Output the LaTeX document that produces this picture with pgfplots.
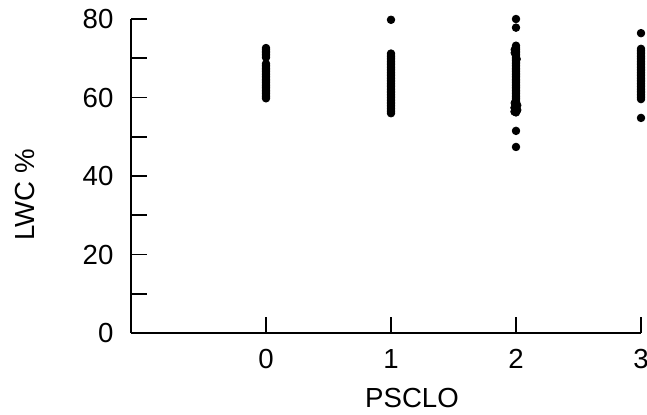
\documentclass[border=0pt]{standalone}
\usepackage{fontspec}
\setmainfont{Liberation Sans}
\usepackage{pgfplots}
\pgfplotsset{compat=1.18}
\begin{document}
\fontsize{13.8}{16}\selectfont
\begin{tikzpicture}
\tikzset{dot/.style={only marks, mark=*, mark size=1.9pt, draw=black, fill=black, mark options={draw=black, fill=black}}}
\begin{axis}[
  scale only axis,
  width=255pt, height=157pt,
  xmin=-1.08, xmax=3, ymin=0, ymax=80,
  clip=false,
  axis x line*=bottom, axis y line*=left,
  axis line style={line width=0.9pt, black},
  xtick={0,1,2,3},
  ytick={0,20,40,60,80},
  minor ytick={10,30,50,70},
  tick align=inside,
  major tick length=8pt, minor tick length=8pt,
  every tick/.style={line width=0.9pt, black},
  /pgf/number format/assume math mode=true,
  tick label style={font=\fontsize{13.8}{16}\selectfont},
  yticklabel style={xshift=-4pt},
  xticklabel style={yshift=-3.5pt},
  xlabel={PSCLO}, ylabel={LWC \%},
  label style={font=\fontsize{13.8}{16}\selectfont},
  xlabel style={at={(axis description cs:0.551,-0.207)}, anchor=center},
  ylabel style={at={(axis description cs:-0.2078,0.44)}, anchor=center},
]
\coordinate (sw) at (rel axis cs:0,0);
% PSCLO = 0
\addplot[dot] coordinates {
(0,59.8)(0,60.2)(0,60.6)(0,61.0)(0,61.4)(0,61.8)(0,62.2)(0,62.6)(0,63.0)(0,63.4)
(0,63.8)(0,64.2)(0,64.6)(0,65.0)(0,65.4)(0,65.8)(0,66.2)(0,66.6)(0,67.0)(0,67.4)
(0,67.8)(0,68.2)(0,68.6)(0,70.2)(0,70.6)(0,71.0)(0,71.4)(0,71.8)(0,72.2)(0,72.6)
};
% PSCLO = 1
\addplot[dot] coordinates {
(1,79.8)
(1,56.0)(1,56.4)(1,56.8)(1,57.2)(1,57.6)(1,58.0)(1,58.4)(1,58.8)(1,59.2)(1,59.6)
(1,60.0)(1,60.4)(1,60.8)(1,61.2)(1,61.6)(1,62.0)(1,62.4)(1,62.8)(1,63.2)(1,63.6)
(1,64.0)(1,64.4)(1,64.8)(1,65.2)(1,65.6)(1,66.0)(1,66.4)(1,66.8)(1,67.2)(1,67.6)
(1,68.0)(1,68.4)(1,68.8)(1,69.2)(1,69.6)(1,70.0)(1,70.4)(1,70.8)(1,71.2)
};
% PSCLO = 2
\addplot[dot] coordinates {
(2,80.0)(2,77.8)
(2,56.2)(2,56.6)(2,57.0)(2,57.4)(2,57.8)(2,58.2)(2,58.6)(2,59.0)(2,59.4)(2,59.8)
(2,60.2)(2,60.6)(2,61.0)(2,61.4)(2,61.8)(2,62.2)(2,62.6)(2,63.0)(2,63.4)(2,63.8)
(2,64.2)(2,64.6)(2,65.0)(2,65.4)(2,65.8)(2,66.2)(2,66.6)(2,67.0)(2,67.4)(2,67.8)
(2,68.2)(2,68.6)(2,69.0)(2,69.4)(2,69.8)(2,70.2)(2,70.6)(2,71.0)(2,71.4)(2,71.8)
(2,72.2)(2,72.6)(2,73.2)
(1.988,56.4)(2.01,56.8)(1.988,57.4)(2.01,58.0)(1.99,58.6)
(1.99,71.4)(1.99,72.2)(2.005,69.8)
(2,51.5)(2,47.4)
};
% PSCLO = 3
\addplot[dot] coordinates {
(3,76.4)
(3,59.6)(3,60.0)(3,60.4)(3,60.8)(3,61.2)(3,61.6)(3,62.0)(3,62.4)(3,62.8)(3,63.2)
(3,63.6)(3,64.0)(3,64.4)(3,64.8)(3,65.2)(3,65.6)(3,66.0)(3,66.4)(3,66.8)(3,67.2)
(3,67.6)(3,68.0)(3,68.4)(3,68.8)(3,69.2)(3,69.6)(3,70.0)(3,70.4)(3,70.8)(3,71.2)
(3,71.6)(3,72.0)(3,72.4)
(3,54.8)
};
\end{axis}
\pgfresetboundingbox
\useasboundingbox ([shift={(-65.5pt,-40.5pt)}]sw) rectangle ([shift={(258pt,166.5pt)}]sw);
\end{tikzpicture}
\end{document}
